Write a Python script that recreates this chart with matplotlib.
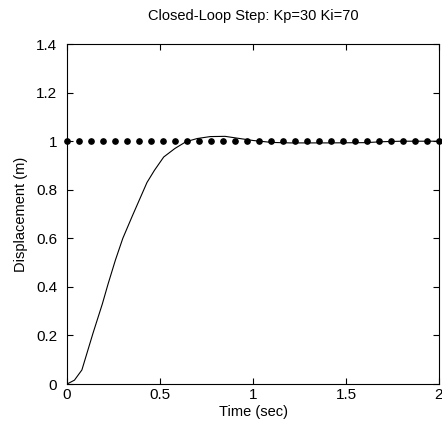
import numpy as np
import matplotlib
matplotlib.use("Agg")
import matplotlib.pyplot as plt

# step response
t = [0, 0.04, 0.08, 0.14, 0.19, 0.22, 0.26, 0.30, 0.35, 0.39, 0.43, 0.47,
     0.52, 0.58, 0.64, 0.70, 0.77, 0.85, 0.92, 1.0, 1.1, 1.2, 1.4, 1.6,
     1.7, 1.8, 2.0]
y = [0, 0.016, 0.058, 0.21, 0.33, 0.41, 0.51, 0.60, 0.69, 0.76, 0.83, 0.88,
     0.935, 0.97, 0.998, 1.011, 1.019, 1.02, 1.012, 1.003, 0.995, 0.993,
     0.993, 0.994, 0.998, 1.0, 1.0]

# reference (setpoint) line
t_ref = np.linspace(0, 2, 32)
y_ref = np.ones_like(t_ref)

plt.rcParams['font.family'] = ['Liberation Sans', 'DejaVu Sans']

fig = plt.figure(figsize=(4.42, 4.32), dpi=100)
ax = fig.add_axes([0.1516, 0.111, 0.8416, 0.787])
ax.plot(t, y, color='black', lw=0.8)
ax.plot(t_ref, y_ref, ls='none', marker='o', ms=3.8, color='black',
        clip_on=False)

ax.set_xlim(0, 2)
ax.set_ylim(0, 1.4)
ax.set_xticks([0, 0.5, 1, 1.5, 2])
ax.set_xticklabels(['0', '0.5', '1', '1.5', '2'])
ax.set_yticks([0, 0.2, 0.4, 0.6, 0.8, 1.0, 1.2, 1.4])
ax.set_yticklabels(['0', '0.2', '0.4', '0.6', '0.8', '1', '1.2', '1.4'])
ax.tick_params(direction='in', top=True, right=True, length=4, width=0.8,
               labelsize=11)
ax.tick_params(axis='x', pad=3)
ax.tick_params(axis='y', pad=7)
for s in ax.spines.values():
    s.set_linewidth(0.8)

ax.set_title('Closed-Loop Step: Kp=30 Ki=70', fontsize=10.5, pad=17)
ax.set_xlabel('Time (sec)', fontsize=10.5, labelpad=2)
ax.set_ylabel('Displacement (m)', fontsize=10.5, labelpad=6)

fig.savefig('out.png', dpi=100)
